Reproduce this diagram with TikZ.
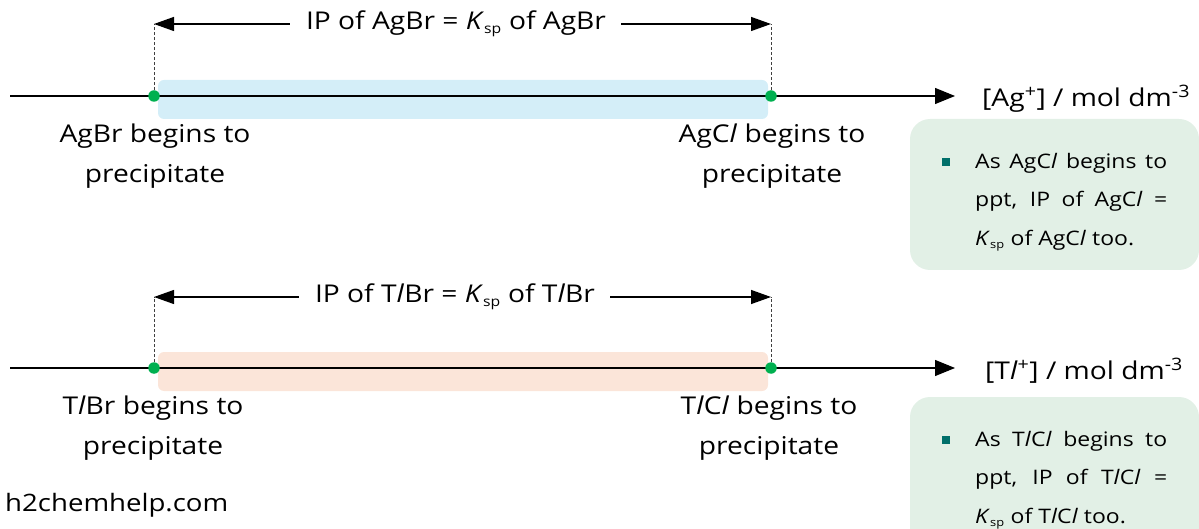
\documentclass[tikz,border=0pt]{standalone}
\usepackage{fontspec}
\setmainfont{Open Sans}[FakeStretch=1.15]
\usetikzlibrary{arrows.meta}
\definecolor{dotgreen}{HTML}{00B050}
\definecolor{barblue}{HTML}{D4EEF8}
\definecolor{barorange}{HTML}{FBE5D9}
\definecolor{boxgreen}{HTML}{E2F0E6}
\definecolor{bulletteal}{HTML}{00706A}
\newcommand{\Cl}{C\textit{l}}
\newcommand{\Tl}{T\textit{l}}
\newcommand{\Ksp}{\textit{K}\textsubscript{\scalebox{0.8}{sp}}}
\tikzset{
  axisline/.style={line width=1.2pt,-{Triangle[length=20pt,width=16pt]}},
  iparrow/.style={line width=1.3pt,-{Triangle[length=20pt,width=14pt]}},
  dropline/.style={densely dashed,line width=0.9pt,black!75},
  gdot/.style={circle,fill=dotgreen,inner sep=0pt,minimum size=11.5pt},
  lbl/.style={align=center,font=\fontsize{24.5}{40}\selectfont,inner sep=0pt},
  iplbl/.style={font=\fontsize{24.5}{28}\selectfont,inner sep=0pt},
  axlbl/.style={anchor=west,font=\fontsize{24.5}{28}\selectfont,inner sep=0pt},
  note/.style={anchor=north west,align=left,font=\fontsize{20}{38.5}\selectfont,inner sep=0pt},
  bsq/.style={fill=bulletteal,inner sep=0pt,minimum size=7.5pt},
}
\begin{document}
\begin{tikzpicture}[x=1pt,y=-1pt]
\useasboundingbox (0,0) rectangle (1199,529);
% ---------- top ----------
\fill[barblue,rounded corners=6pt] (158,80) rectangle (768,119);
\coordinate (a0) at (10,96);
\coordinate (aend) at (955,96);
\draw[axisline] (a0) -- (aend);
\node[gdot] (d1) at (154,96) {};
\node[gdot] (d2) at (771,96) {};
\coordinate (t1) at (154,24);
\coordinate (t2) at (771,24);
\draw[dropline] (d1) -- (t1);
\draw[dropline] (d2) -- (t2);
\node[iplbl] (ip1) at (456,24) {IP of AgBr = \Ksp\ of AgBr};
\draw[iparrow] ([xshift=-16pt]ip1.west) -- (t1);
\draw[iparrow] ([xshift=15pt]ip1.east) -- (t2);
\node[axlbl] (ax1) at (982,99) {[Ag\textsuperscript{+}] / mol dm\textsuperscript{-3}};
\node[lbl] (l1) at (155,156) {AgBr begins to\\precipitate};
\node[lbl] (l2) at (772,156) {Ag\Cl\ begins to\\precipitate};
\fill[boxgreen,rounded corners=20pt] (910,119) rectangle (1199,270);
\node[bsq] (b1) at (946,162) {};
\node[note] (n1) at (975,153) {\makebox[192pt][s]{As Ag\Cl\ begins to}\\\makebox[192pt][s]{ppt, IP of Ag\Cl\ =}\\\Ksp\ of Ag\Cl\ too.};
% ---------- bottom ----------
\fill[barorange,rounded corners=6pt] (158,352) rectangle (768,391);
\coordinate (c0) at (10,368);
\coordinate (cend) at (955,368);
\draw[axisline] (c0) -- (cend);
\node[gdot] (e1) at (154,368) {};
\node[gdot] (e2) at (771,368) {};
\coordinate (u1) at (154,297);
\coordinate (u2) at (771,297);
\draw[dropline] (e1) -- (u1);
\draw[dropline] (e2) -- (u2);
\node[iplbl] (ip2) at (455,297) {IP of \Tl Br = \Ksp\ of \Tl Br};
\draw[iparrow] ([xshift=-16pt]ip2.west) -- (u1);
\draw[iparrow] ([xshift=15pt]ip2.east) -- (u2);
\node[axlbl] (ax2) at (985,371) {[\Tl\textsuperscript{+}] / mol dm\textsuperscript{-3}};
\node[lbl] (l3) at (153,428) {\Tl Br begins to\\precipitate};
\node[lbl] (l4) at (769,428) {\Tl\Cl\ begins to\\precipitate};
\fill[boxgreen,rounded corners=20pt] (910,397) rectangle (1199,560);
\node[bsq] (b2) at (946,440) {};
\node[note] (n2) at (975,431) {\makebox[192pt][s]{As \Tl\Cl\ begins to}\\\makebox[192pt][s]{ppt, IP of \Tl\Cl\ =}\\\Ksp\ of \Tl\Cl\ too.};
\node[anchor=west,font=\fontsize{24}{28}\selectfont,inner sep=0pt] (web) at (5,505) {h2chemhelp.com};
\end{tikzpicture}
\end{document}
